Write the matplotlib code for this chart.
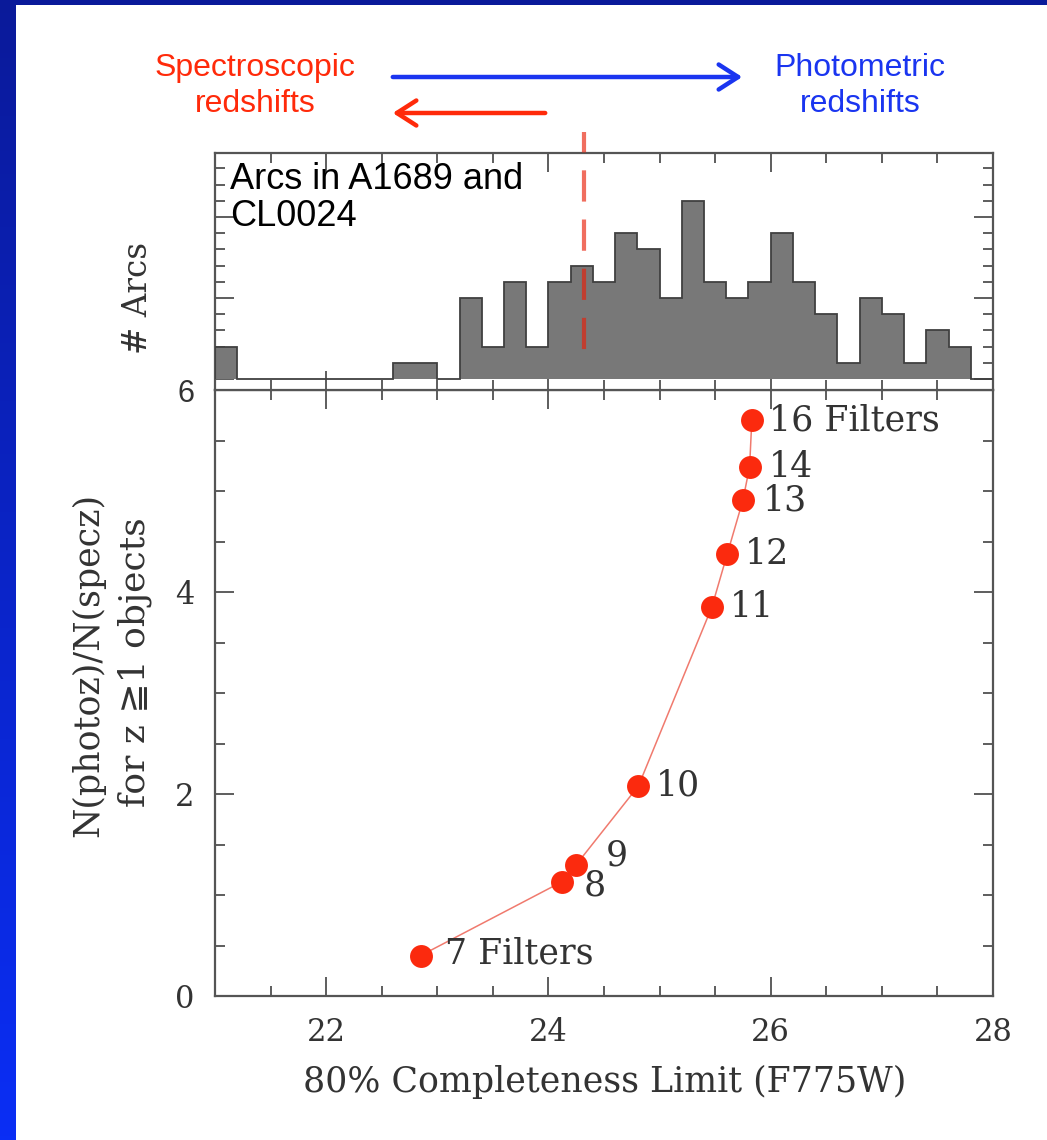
import numpy as np
import matplotlib
matplotlib.use("Agg")
import matplotlib.pyplot as plt
from matplotlib.patches import FancyArrowPatch
from matplotlib.ticker import MultipleLocator
from matplotlib.transforms import blended_transform_factory

# Filter sets: completeness limit vs photo-z / spec-z ratio
filter_labels = ["7 Filters", "8", "9", "10", "11", "12", "13", "14", "16 Filters"]
completeness = [22.85, 24.12, 24.25, 24.81, 25.47, 25.61, 25.75, 25.81, 25.83]
ratio = [0.40, 1.13, 1.30, 2.08, 3.85, 4.38, 4.91, 5.24, 5.70]

# Arc magnitude histogram (0.2 mag bins starting at 21.0)
arc_counts = [2, 0, 0, 0, 0, 0, 0, 0, 1, 1, 0, 5, 2, 6, 2, 6, 7, 6, 9, 8,
              5, 11, 6, 5, 6, 9, 6, 4, 1, 5, 4, 1, 3, 2, 0]
bin_start = 21.0
bin_width = 0.2
split_mag = 24.32

W, H = 1047, 1140
SERIF = ["DejaVu Serif", "DejaVu Sans"]
TXT = "#333333"


def fx(px):
    return px / W


def fy(py):
    return 1 - py / H


fig = plt.figure(figsize=(W / 100, H / 100), dpi=100)

# slide frame: dark top band, blue gradient strip on the left
top = fig.add_axes([0, fy(5), 1, 5 / H])
top.set_axis_off()
top.add_patch(plt.Rectangle((0, 0), 1, 1, color="#0a1a9a", transform=top.transAxes))
left = fig.add_axes([0, 0, fx(15), 1])
grad = np.linspace(0, 1, 256).reshape(-1, 1)
cmap = matplotlib.colors.LinearSegmentedColormap.from_list("slide", ["#0a2ef5", "#0a1a9a"])
left.imshow(grad, aspect="auto", cmap=cmap, origin="lower", extent=[0, 1, 0, 1])
left.set_axis_off()

# axes
ax = fig.add_axes([fx(215), fy(996), fx(993) - fx(215), fy(390) - fy(996)])
ax_h = fig.add_axes([fx(215), fy(390), fx(993) - fx(215), fy(153) - fy(390)], sharex=ax)

edges = bin_start + bin_width * np.arange(len(arc_counts) + 1)
ax_h.stairs(arc_counts, edges, fill=True, color="#787878", baseline=0, zorder=2)
ax_h.stairs(arc_counts, edges, color="#404040", lw=1.3, baseline=0, zorder=3)
ax_h.set_ylim(-0.68, 13.95)

trans = blended_transform_factory(ax_h.transData, fig.transFigure)
ax_h.plot([split_mag, split_mag], [fy(132), fy(362)], transform=trans, clip_on=False,
          color="#e8200a", alpha=0.65, lw=3, linestyle=(2.6, (7.5, 4.3)), zorder=6)

ax_h.text(fx(230), fy(198), "Arcs in A1689 and\nCL0024", transform=fig.transFigure,
          family="Liberation Sans", fontsize=26, color="black", ha="left", va="center",
          linespacing=1.1, zorder=7)

# main curve
ax.plot(completeness, ratio, color="#f07a6e", lw=1.1, zorder=2)
ax.plot(completeness, ratio, "o", ms=16.5, color="#fb2a0e", mec="none", zorder=3)
dx_px = [24, 22, 30, 17, 18, 17, 20, 19, 17]
dy_px = [2, -4, 9, 0, 0, 0, 0, 0, 0]
for lab, x, y, dx, dy in zip(filter_labels, completeness, ratio, dx_px, dy_px):
    ax.annotate(lab, (x, y), xytext=(dx * 0.72, dy * 0.72), textcoords="offset points",
                ha="left", va="center", family=SERIF, fontsize=25, color=TXT, zorder=4)

ax.set_xlim(21, 28)
ax.set_ylim(0, 6)
ax.xaxis.set_major_locator(MultipleLocator(2))
ax.xaxis.set_minor_locator(MultipleLocator(0.5))
ax.set_yticks([0, 2, 4, 6], ["0", "2", "4", "6"])
ax.yaxis.set_minor_locator(MultipleLocator(0.5))
ax_h.yaxis.set_major_locator(MultipleLocator(5))
ax_h.yaxis.set_minor_locator(MultipleLocator(1))

for a in (ax, ax_h):
    a.tick_params(which="both", direction="in", top=True, right=True, color="#505050",
                  width=1.3)
    a.tick_params(which="major", length=14)
    a.tick_params(which="minor", length=7)
    for s in a.spines.values():
        s.set_color("#555555")
        s.set_linewidth(1.6)
ax.tick_params(axis="x", labelsize=22, pad=15, labelcolor=TXT)
ax.tick_params(axis="y", labelsize=22, pad=15, labelcolor=TXT)
for t in ax.get_xticklabels() + ax.get_yticklabels():
    t.set_family(SERIF)
ax.get_yticklabels()[3].set_family("Liberation Sans")
ax_h.tick_params(labelbottom=False, labelleft=False)

# axis titles
fig.text(fx(605), fy(1082), "80% Completeness Limit (F775W)", ha="center", va="center",
         family=SERIF, fontsize=25, color=TXT)
fig.text(fx(88), fy(665), "N(photoz)/N(specz)", rotation=90, ha="center", va="center",
         family=SERIF, fontsize=25, color=TXT)
fig.text(fx(135), fy(662), "for z \u22671 objects", rotation=90, ha="center", va="center",
         family=SERIF, fontsize=26, color=TXT)
fig.text(fx(138), fy(298), "# Arcs", rotation=90, ha="center", va="center",
         family=SERIF, fontsize=23.5, color=TXT)

# slide annotations
fig.text(fx(255), fy(86), "Spectroscopic\nredshifts", ha="center", va="center",
         multialignment="center", family="Liberation Sans", fontsize=23,
         color="#ff2a0a", linespacing=1.25)
fig.text(fx(860), fy(86), "Photometric\nredshifts", ha="center", va="center",
         multialignment="center", family="Liberation Sans", fontsize=23,
         color="#1a35f0", linespacing=1.25)
fig.patches.append(FancyArrowPatch((fx(390), fy(77)), (fx(745), fy(77)),
                                   transform=fig.transFigure, arrowstyle="->,head_length=0.7,head_width=0.45",
                                   mutation_scale=20, lw=3.2, color="#1a35f0"))
fig.patches.append(FancyArrowPatch((fx(548), fy(113)), (fx(390), fy(113)),
                                   transform=fig.transFigure, arrowstyle="->,head_length=0.7,head_width=0.45",
                                   mutation_scale=20, lw=3.2, color="#ff2a0a"))

fig.savefig("out.png", dpi=100)
